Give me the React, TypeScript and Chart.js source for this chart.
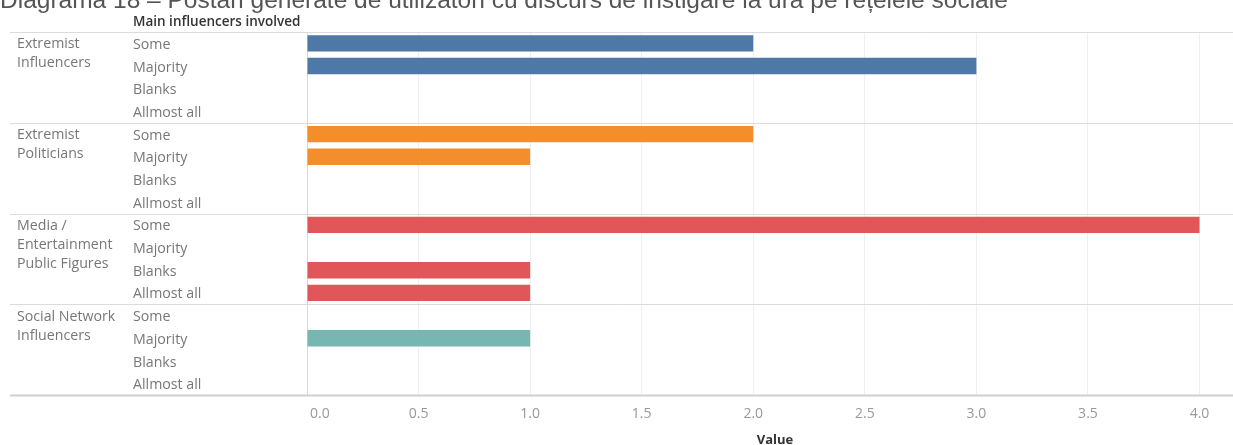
import React, { useEffect, useRef } from "react";
import { Chart, registerables } from "chart.js";

Chart.register(...registerables);

const TITLE = "Diagrama 18 – Postări generate de utilizatori cu discurs de instigare la ură pe rețelele sociale";
const HEADER = "Main influencers involved";
const X_TITLE = "Value";

const groups = [
  ["Extremist", "Influencers"],
  ["Extremist", "Politicians"],
  ["Media /", "Entertainment", "Public Figures"],
  ["Social Network", "Influencers"],
];
const subcategories = ["Some", "Majority", "Blanks", "Allmost all"];
const groupColors = ["#4e79a7", "#f28e2b", "#e15759", "#76b7b2"];

const extremistInfluencers = [2, 3, 0, 0];
const extremistPoliticians = [2, 1, 0, 0];
const mediaFigures = [4, 0, 1, 1];
const socialNetworkInfluencers = [0, 1, 0, 0];

const xTicks = [0, 0.5, 1, 1.5, 2, 2.5, 3, 3.5, 4];

const seriesByGroup = [extremistInfluencers, extremistPoliticians, mediaFigures, socialNetworkInfluencers];

const FONT = "'Open Sans', sans-serif";

export default function App() {
  const ref = useRef<HTMLCanvasElement | null>(null);

  useEffect(() => {
    if (!ref.current) return;
    const labels: string[] = [];
    const values: number[] = [];
    const colors: string[] = [];
    seriesByGroup.forEach((arr, gi) => {
      arr.forEach((v, si) => {
        labels.push(subcategories[si]);
        values.push(v);
        colors.push(groupColors[gi]);
      });
    });

    const labelPlugin = {
      id: "rowLabels",
      afterDraw(chart: any) {
        const ctx = chart.ctx;
        const y = chart.scales.y;
        const x = chart.scales.x;
        const area = chart.chartArea;
        const n = labels.length;
        const rowH = (area.bottom - area.top) / n;
        ctx.save();
        // separators
        for (let g = 0; g <= groups.length; g++) {
          const yy = Math.round(area.top + g * 4 * rowH) + 0.5;
          ctx.lineWidth = g === groups.length ? 2 : 1;
          ctx.strokeStyle = g === groups.length ? "#d0d0d0" : "#dcdcdc";
          ctx.beginPath();
          ctx.moveTo(10, yy);
          ctx.lineTo(chart.width, yy);
          ctx.stroke();
        }
        // header
        ctx.fillStyle = "#333";
        ctx.font = `600 13.5px ${FONT}`;
        ctx.textBaseline = "middle";
        ctx.textAlign = "left";
        ctx.fillText(HEADER, 133, area.top - 10);
        // row labels
        ctx.fillStyle = "#777";
        ctx.font = `14.2px ${FONT}`;
        for (let i = 0; i < n; i++) {
          const cy = y.getPixelForValue(i) + 1.5;
          ctx.fillText(labels[i], 133, cy);
        }
        // group labels
        groups.forEach((lines, gi) => {
          const cy = y.getPixelForValue(gi * 4) + 1;
          lines.forEach((ln, li) => {
            ctx.fillText(ln, 17, cy + li * 19);
          });
        });
        // x tick labels
        ctx.fillStyle = "#999";
        ctx.font = `14px ${FONT}`;
        xTicks.forEach((t, i) => {
          const px = x.getPixelForValue(t);
          ctx.textAlign = i === 0 ? "left" : "center";
          ctx.fillText(t.toFixed(1), i === 0 ? px + 3 : px, area.bottom + 19);
        });
        // x title
        ctx.fillStyle = "#333";
        ctx.font = `bold 13px ${FONT}`;
        ctx.textAlign = "center";
        ctx.fillText(X_TITLE, 775, 440);
        ctx.restore();
      },
    };

    const chart = new Chart(ref.current, {
      type: "bar",
      data: {
        labels,
        datasets: [
          {
            data: values,
            backgroundColor: colors,
            barPercentage: 0.72,
            categoryPercentage: 1,
          },
        ],
      },
      options: {
        animation: false,
        responsive: false,
        indexAxis: "y",
        layout: { padding: { left: 307, top: 32, right: 0, bottom: 0 } },
        plugins: { legend: { display: false }, tooltip: { enabled: false } },
        scales: {
          y: { display: false, offset: true },
          x: {
            min: 0,
            max: 4.15,
            border: { display: false },
            grid: {
              drawTicks: false,
              color: (c: any) => (c.tick && c.tick.value === 0 ? "#d8d8d8" : "#f0f0f0"),
            },
            afterBuildTicks: (s: any) => {
              s.ticks = xTicks.map((v) => ({ value: v }));
            },
            ticks: { display: false },
            afterFit: (s: any) => {
              s.height = 50;
            },
          },
        },
      },
      plugins: [labelPlugin],
    });
    return () => chart.destroy();
  }, []);

  return (
    <div style={{ position: "fixed", left: 0, top: 0, width: 1233, height: 445, overflow: "hidden", background: "#fff" }}>
      <canvas ref={ref} width={1233} height={445} style={{ position: "absolute", left: 0, top: 0 }} />
      <div
        style={{
          position: "absolute",
          left: 0,
          top: -13,
          whiteSpace: "nowrap",
          fontFamily: "'Liberation Sans', Arial, sans-serif",
          fontSize: 24.5,
          lineHeight: "25px",
          color: "#555",
        }}
      >
        {TITLE}
      </div>
    </div>
  );
}
